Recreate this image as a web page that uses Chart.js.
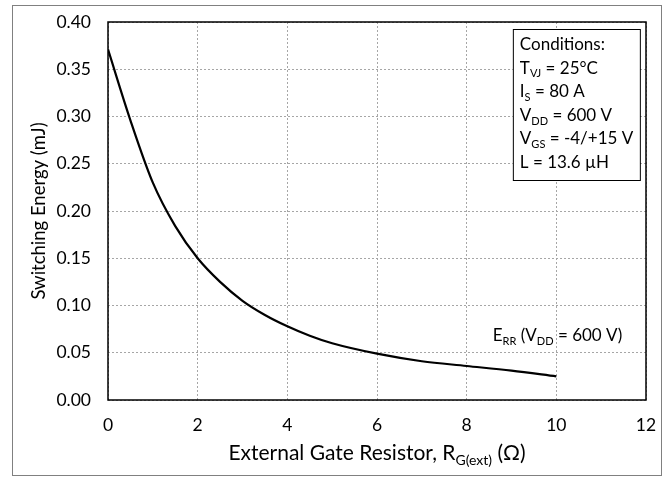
<!DOCTYPE html>
<html>
<head>
<meta charset="utf-8">
<script src="https://cdn.jsdelivr.net/npm/chart.js@4/dist/chart.umd.min.js"></script>
<style>
	body { margin: 0; background: #fff; }
	#wrap { width: 672px; height: 477px; position: relative; }
</style>
</head>
<body>
<div id="wrap"><canvas id="chart"></canvas></div>
<script>
// Значения
const gateResistor = [0, 0.5, 1, 1.5, 2, 2.5, 3, 3.5, 4, 4.5, 5, 6, 7, 8, 9, 10]
const switchingEnergy = [0.371, 0.296, 0.230, 0.184, 0.150, 0.125, 0.105, 0.090, 0.078, 0.068, 0.060, 0.049, 0.041, 0.036, 0.031, 0.025]

const xTicks = [0, 2, 4, 6, 8, 10, 12]
const yTicks = [0, 0.05, 0.1, 0.15, 0.2, 0.25, 0.3, 0.35, 0.4]

const yTitle = 'Switching Energy (mJ)'
// [текст, нижний индекс?]
const xTitle = [['External Gate Resistor, R', false], ['G(ext)', true], [' (Ω)', false]]
const curveLabel = [['E', false], ['RR', true], [' (V', false], ['DD', true], [' = 600 V)', false]]
const conditions = [
	[['Conditions:', false]],
	[['T', false], ['VJ', true], [' = 25°C', false]],
	[['I', false], ['S', true], [' = 80 A', false]],
	[['V', false], ['DD', true], [' = 600 V', false]],
	[['V', false], ['GS', true], [' = -4/+15 V', false]],
	[['L = 13.6 µH', false]],
]

const FONT = 'Lato, "Open Sans", sans-serif'

function richWidth(ctx, parts, size) {
	let w = 0
	parts.forEach(([t, sub]) => {
		ctx.font = `${sub ? Math.round(size * 0.65) : size}px ${FONT}`
		w += ctx.measureText(t).width
	})
	return w
}

function drawRich(ctx, parts, x, y, size) {
	// y - базовая линия
	ctx.textAlign = 'left'
	ctx.textBaseline = 'alphabetic'
	parts.forEach(([t, sub]) => {
		const s = sub ? Math.round(size * 0.65) : size
		ctx.font = `${s}px ${FONT}`
		ctx.fillText(t, x, sub ? y + size * 0.22 : y)
		x += ctx.measureText(t).width
	})
}

const decorPlugin = {
	id: 'decor',
	afterDraw(chart) {
		const ctx = chart.ctx
		const area = chart.chartArea
		const xs = chart.scales.x
		const ys = chart.scales.y
		ctx.save()

		// внешняя рамка
		ctx.strokeStyle = '#808080'
		ctx.lineWidth = 1
		ctx.strokeRect(12.5, 5.5, 649, 470)

		// рамка области графика
		ctx.strokeStyle = '#000'
		ctx.lineWidth = 1.5
		ctx.strokeRect(area.left, area.top, area.right - area.left, area.bottom - area.top)

		ctx.fillStyle = '#000'

		// подпись оси X
		const size = 21
		const w = richWidth(ctx, xTitle, size)
		drawRich(ctx, xTitle, (area.left + area.right) / 2 - w / 2, 460, size)

		// подпись кривой
		const lw = richWidth(ctx, curveLabel, 17)
		drawRich(ctx, curveLabel, xs.getPixelForValue(11.47) - lw, ys.getPixelForValue(0.062), 17)

		// блок условий
		const bx = xs.getPixelForValue(9.03)
		const by = area.top + 7
		const bw = 127
		const bh = 151
		ctx.fillStyle = '#fff'
		ctx.fillRect(bx, by, bw, bh)
		ctx.strokeStyle = '#000'
		ctx.lineWidth = 1
		ctx.strokeRect(bx + 0.5, by + 0.5, bw, bh)
		ctx.fillStyle = '#000'
		conditions.forEach((line, i) => {
			drawRich(ctx, line, bx + 7, by + 21 + i * 23.6, 17)
		})

		ctx.restore()
	},
}

new Chart(document.getElementById('chart'), {
	type: 'line',
	data: {
		datasets: [
			{
				label: 'ERR',
				data: gateResistor.map((x, i) => ({ x, y: switchingEnergy[i] })),
				borderColor: '#000',
				borderWidth: 2.2,
				pointRadius: 0,
				fill: false,
				cubicInterpolationMode: 'monotone',
			},
		],
	},
	options: {
		responsive: true,
		maintainAspectRatio: false,
		animation: false,
		layout: { padding: { left: 0, right: 26, top: 22, bottom: 0 } },
		plugins: {
			legend: { display: false },
			tooltip: { enabled: false },
		},
		scales: {
			x: {
				type: 'linear',
				min: 0,
				max: 12,
				afterFit: s => { s.height = 77 },
				afterBuildTicks: s => { s.ticks = xTicks.map(v => ({ value: v })) },
				ticks: {
					color: '#000',
					font: { family: FONT, size: 17.5 },
					padding: 15,
				},
				grid: {
					color: '#a6a6a6',
					drawTicks: false,
				},
				border: { display: false, dash: [2, 2] },
			},
			y: {
				min: 0,
				max: 0.4,
				afterFit: s => {
					s.width = 108
					s.paddingTop = 0
					s.paddingBottom = 0
				},
				afterBuildTicks: s => { s.ticks = yTicks.map(v => ({ value: v })) },
				ticks: {
					color: '#000',
					font: { family: FONT, size: 17.5 },
					padding: 17,
					callback: v => v.toFixed(2),
				},
				grid: {
					color: '#a6a6a6',
					drawTicks: false,
				},
				border: { display: false, dash: [2, 2] },
				title: {
					display: true,
					text: yTitle,
					color: '#000',
					font: { family: FONT, size: 18.5 },
					padding: { top: 28, bottom: 0 },
				},
			},
		},
	},
	plugins: [decorPlugin],
})
</script>
</body>
</html>
